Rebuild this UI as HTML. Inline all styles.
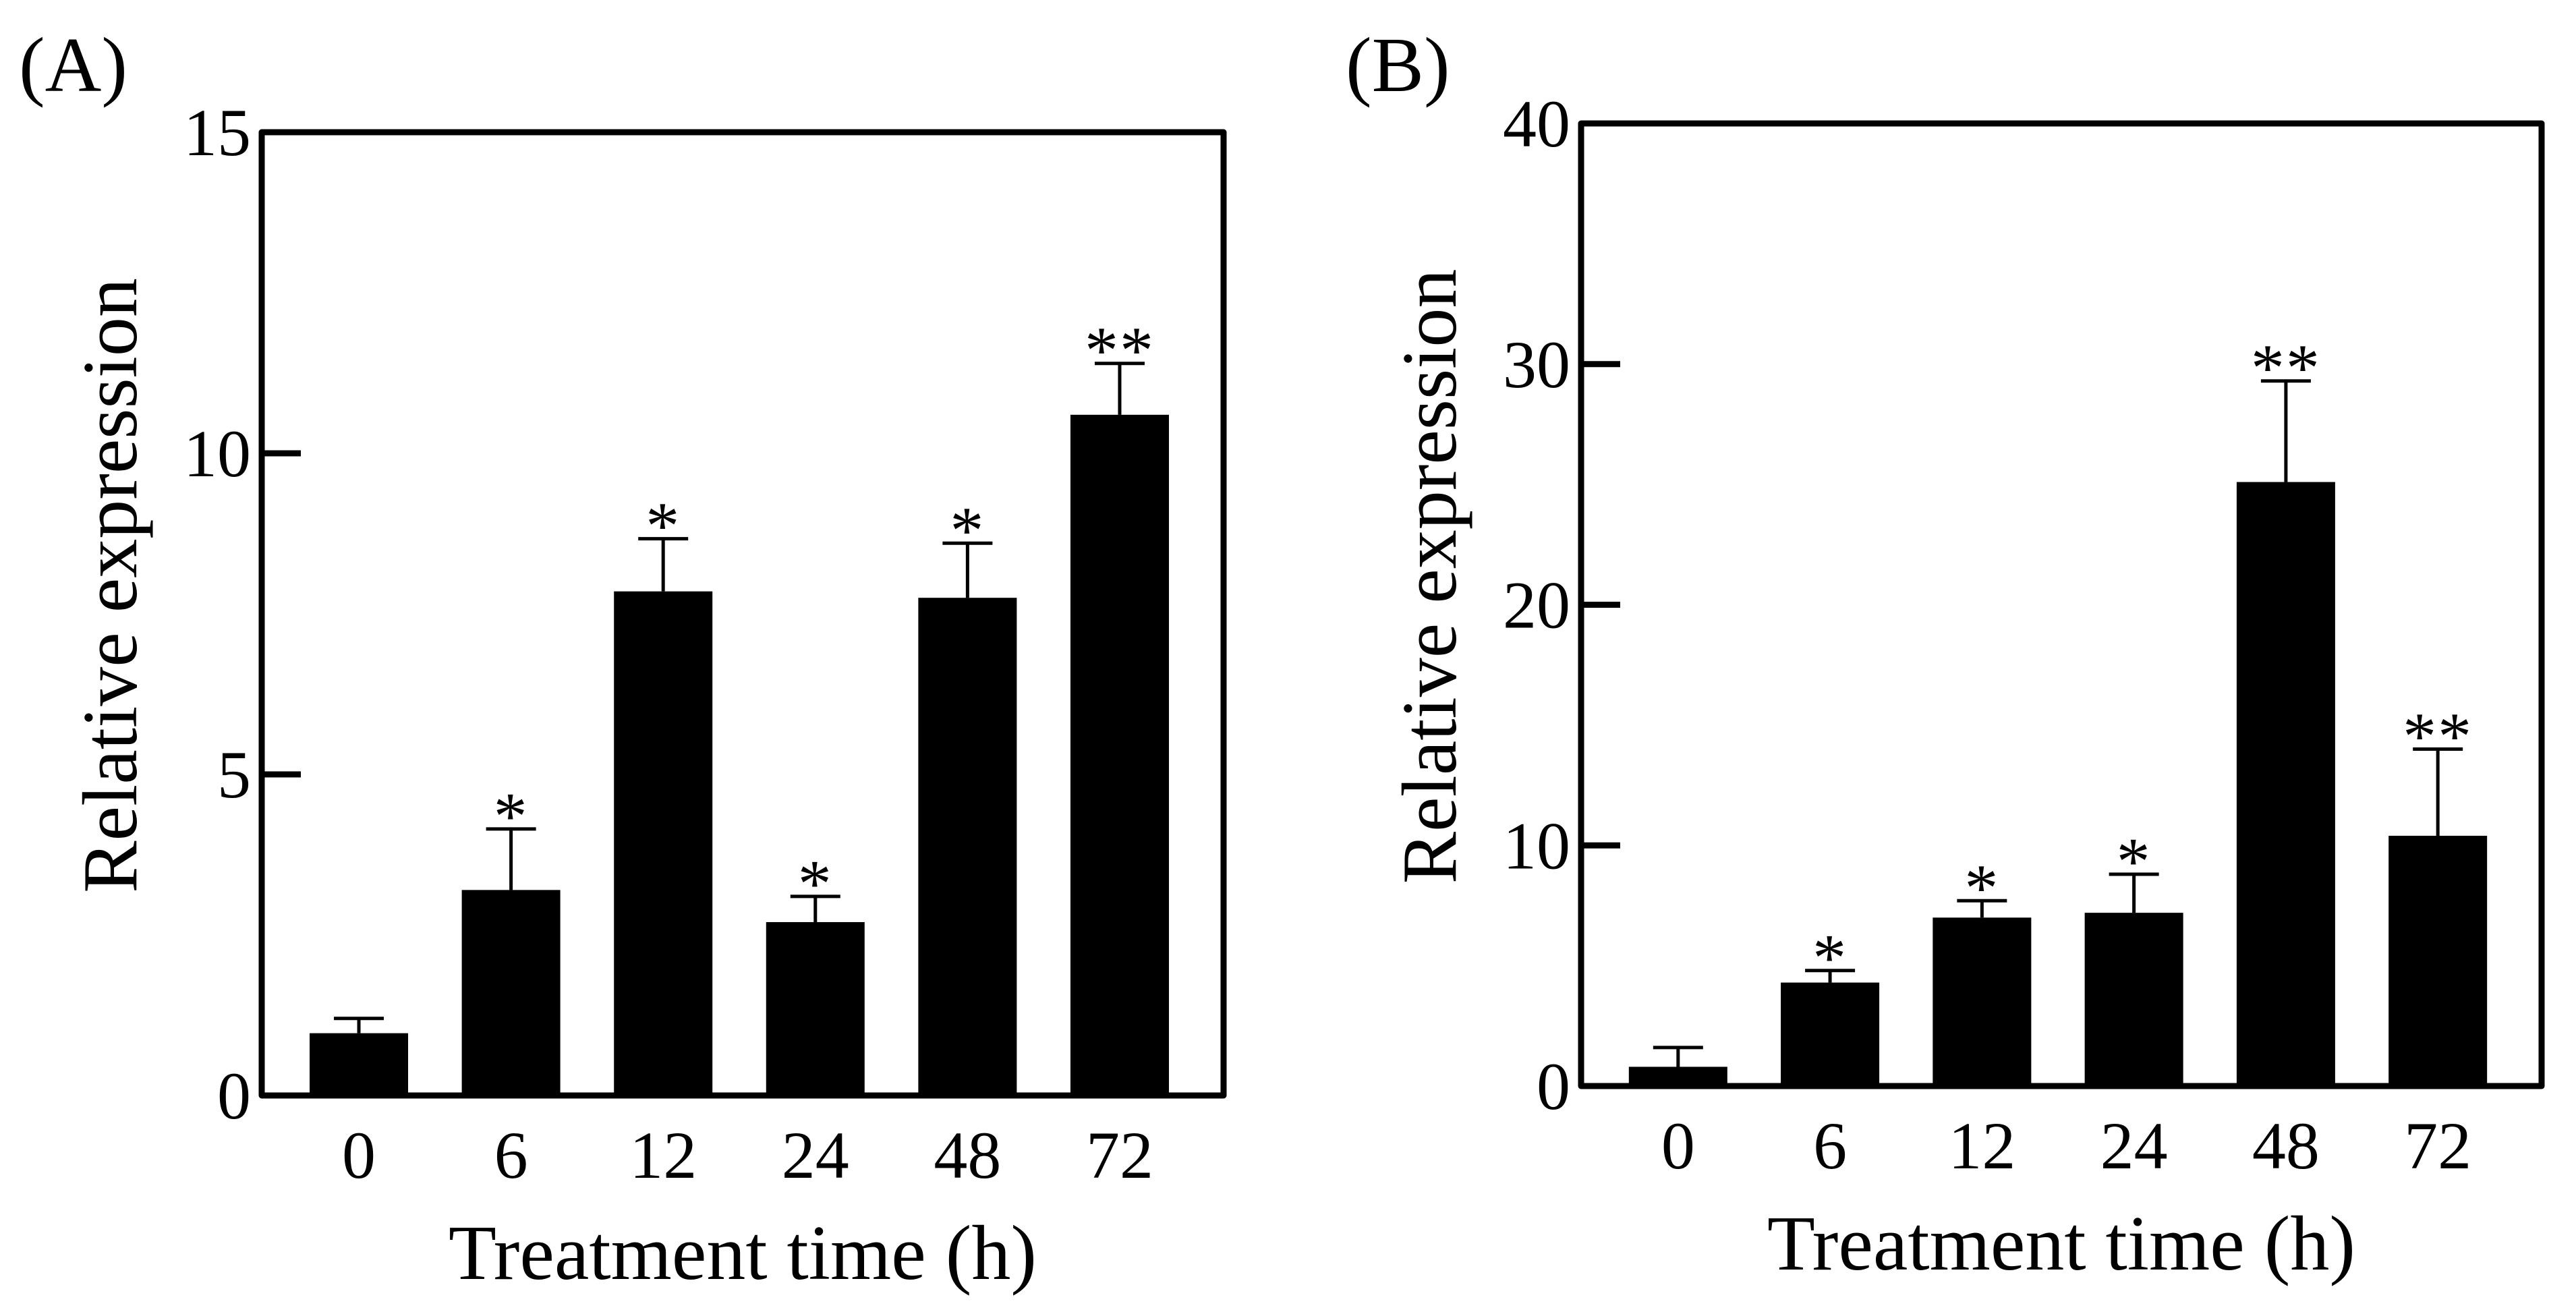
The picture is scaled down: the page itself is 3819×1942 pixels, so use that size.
<!DOCTYPE html>
<html><head><meta charset="utf-8"><style>
html,body{margin:0;padding:0;background:#fff;}
svg{display:block;font-family:"Liberation Serif",serif;}
</style></head><body>
<svg id="fig" width="3819" height="1942" viewBox="0 0 3819 1942"></svg>
<script>
const categories = ["0","6","12","24","48","72"];
const valuesA = [0.97, 3.2, 7.85, 2.7, 7.75, 10.6];
const errorsA = [0.23, 0.95, 0.82, 0.4, 0.85, 0.8];
const starsA = ["", "*", "*", "*", "*", "**"];
const ticksA = [0, 5, 10, 15];
const valuesB = [0.8, 4.3, 7.0, 7.2, 25.1, 10.4];
const errorsB = [0.8, 0.5, 0.7, 1.6, 4.2, 3.6];
const starsB = ["", "*", "*", "*", "**", "**"];
const ticksB = [0, 10, 20, 30, 40];

const NS = "http://www.w3.org/2000/svg";
const svg = document.getElementById("fig");
function mk(tag, attrs, parent, text){
  const e = document.createElementNS(NS, tag);
  for (const k in attrs) e.setAttribute(k, attrs[k]);
  if (text !== undefined) e.textContent = text;
  (parent || svg).appendChild(e);
  return e;
}
function panel(id, label, L, R, T, B, ymax, vals, errs, stars, ticks, labelX){
  const g = mk("g", {});
  
  
  const y = v => B - (v / ymax) * (B - T);
  const n = categories.length;
  const off = (R - L) * 0.101, step = (R - L - 2 * off - 10) / (n - 1);
  const x = i => L + off + i * step;
  const bw = 146;
  vals.forEach((v, i) => {
    const cx = x(i);
    const bar = mk("rect", {x: cx - bw/2, y: y(v), width: bw, height: B - y(v), fill: "#000"}, g);
    
    
    const top = y(v + errs[i]);
    const eb = mk("path", {d: `M${cx} ${y(v)} V${top} M${cx-37} ${top} H${cx+37}`, stroke: "#000", "stroke-width": 5, fill: "none"}, g);
    
    
    if (stars[i]) {
      const s = mk("text", {x: cx, y: top + 14, "font-size": 100, "text-anchor": "middle", "letter-spacing": 2}, g, stars[i]);
      
      
    }
    const tl = mk("text", {x: cx, y: B + 122, "font-size": 100, "text-anchor": "middle"}, g, categories[i]);
    
    
  });
  ticks.forEach(t => {
    const ty = y(t);
    const tk = mk("line", {x1: L, x2: L + 58, y1: ty, y2: ty, stroke: "#000", "stroke-width": 9}, g);
    
    
    const tl = mk("text", {x: L - 16, y: ty + 34, "font-size": 100, "text-anchor": "end"}, g, String(t));
    
    
  });
  const fr = mk("rect", {x: L, y: T, width: R - L, height: B - T, fill: "none", stroke: "#000", "stroke-width": 9, "stroke-linejoin": "round"}, g);
  
  
  const xt = mk("text", {x: (L + R) / 2, y: B + 272, "font-size": 116, "text-anchor": "middle"}, g, "Treatment time (h)");
  
  
  const yc = (T + B) / 2 - 42;
  const yt = mk("text", {x: 0, y: 0, "font-size": 116, "text-anchor": "middle", transform: `translate(${L - 186},${yc}) rotate(-90)`}, g, "Relative expression");
  
  
  const pl = mk("text", {x: labelX, y: 135, "font-size": 116}, g, label);
  
  
}
panel("a", "(A)", 388, 1814, 196, 1624, 15, valuesA, errorsA, starsA, ticksA, 28);
panel("b", "(B)", 2344, 3768, 183, 1610, 40, valuesB, errorsB, starsB, ticksB, 1995);
</script>
</body></html>
